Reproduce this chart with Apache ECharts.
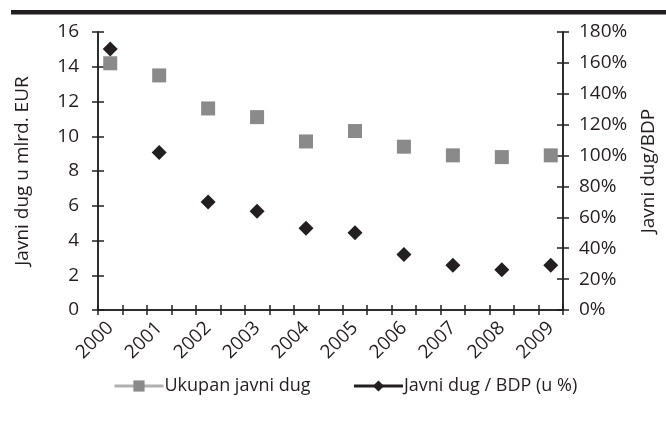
<!DOCTYPE html>
<html>
<head>
<meta charset="utf-8">
<script src="https://cdn.jsdelivr.net/npm/echarts@6/dist/echarts.min.js"></script>
<style>
  html, body { margin: 0; padding: 0; background: #ffffff; }
  #chart { width: 666px; height: 423px; }
</style>
</head>
<body>
<div id="chart"></div>
<script>
// Javni dug 2000-2009: ukupni iznos (mlrd. EUR) i udio u BDP-u
const years = [2000, 2001, 2002, 2003, 2004, 2005, 2006, 2007, 2008, 2009];
const ukupanDug = [14.2, 13.5, 11.6, 11.1, 9.7, 10.3, 9.4, 8.9, 8.8, 8.9];
const dugBdp = [169, 102, 70, 64, 53, 50, 36, 29, 26, 29];
const leftTicks = [0, 2, 4, 6, 8, 10, 12, 14, 16];
const rightTicks = [0, 20, 40, 60, 80, 100, 120, 140, 160, 180];

const ink = '#231f20';
const font = 'Open Sans';
const fs = 19;

// x-axis tick marks sit halfway between the years
const xMin = years[0] - 0.25;
const xMax = years[years.length - 1] + 0.25;
const xTickValues = [];
for (let v = xMin; v <= xMax + 1e-9; v += 0.5) xTickValues.push(+v.toFixed(2));

const chart = echarts.init(document.getElementById('chart'), null, { renderer: 'canvas' });

const baseX = {
  type: 'value', min: xMin, max: xMax, position: 'bottom',
  splitLine: { show: false },
  axisLine: { show: true, onZero: false, lineStyle: { color: ink, width: 1.5 } }
};
const baseY = {
  type: 'value', splitLine: { show: false },
  axisLine: { show: true, lineStyle: { color: ink, width: 1.5 } }
};

chart.setOption({
  animation: false,
  backgroundColor: '#ffffff',
  textStyle: { fontFamily: font, color: ink },
  grid: { left: 98, right: 102, top: 32, bottom: 113, containLabel: false },
  graphic: [{
    type: 'rect', left: 11, top: 10, shape: { width: 655, height: 4.5 },
    style: { fill: '#231f20' }, silent: true
  }],
  legend: {
    bottom: 23, left: 108, itemGap: 42, itemWidth: 49, itemHeight: 14,
    textStyle: { fontFamily: font, fontSize: 18, color: ink, padding: [0, 0, 0, -4] },
    data: [
      { name: 'Ukupan javni dug', itemStyle: { color: '#8a8a8a' },
        lineStyle: { color: '#b0b0b0', width: 3, opacity: 1 } },
      { name: 'Javni dug / BDP (u %)', itemStyle: { color: ink },
        lineStyle: { color: ink, width: 3, opacity: 1 } }
    ]
  },
  xAxis: [
    Object.assign({}, baseX, {
      axisTick: { show: true, inside: false, length: 5, customValues: xTickValues,
        lineStyle: { color: ink, width: 1.5 } },
      axisLabel: {
        show: true, customValues: years, rotate: 45, margin: 15,
        fontFamily: font, fontSize: fs, color: ink,
        formatter: v => String(Math.round(v))
      }
    }),
    Object.assign({}, baseX, {
      axisTick: { show: true, inside: true, length: 5, customValues: xTickValues,
        lineStyle: { color: ink, width: 1.5 } },
      axisLabel: { show: false }
    })
  ],
  yAxis: [
    Object.assign({}, baseY, {
      position: 'left', min: 0, max: 16, interval: 2,
      axisTick: { show: true, inside: false, length: 6, lineStyle: { color: ink, width: 1.5 } },
      axisLabel: { fontFamily: font, fontSize: fs, color: ink, margin: 19 },
      name: 'Javni dug u mlrd. EUR', nameLocation: 'middle', nameRotate: 90, nameGap: 66,
      nameTextStyle: { fontFamily: font, fontSize: fs, color: ink }
    }),
    Object.assign({}, baseY, {
      position: 'right', min: 0, max: 180, interval: 20,
      axisTick: { show: true, inside: false, length: 6, lineStyle: { color: ink, width: 1.5 } },
      axisLabel: { fontFamily: font, fontSize: fs, color: ink, margin: 16,
        formatter: '{value}%' },
      name: 'Javni dug/BDP', nameLocation: 'middle', nameRotate: 90, nameGap: 76,
      nameTextStyle: { fontFamily: font, fontSize: fs, color: ink }
    }),
    Object.assign({}, baseY, {
      position: 'left', min: 0, max: 16, interval: 2,
      axisTick: { show: true, inside: true, length: 6, lineStyle: { color: ink, width: 1.5 } },
      axisLabel: { show: false }
    }),
    Object.assign({}, baseY, {
      position: 'right', min: 0, max: 180, interval: 20,
      axisTick: { show: true, inside: true, length: 6, lineStyle: { color: ink, width: 1.5 } },
      axisLabel: { show: false }
    })
  ],
  series: [
    {
      name: 'Ukupan javni dug', type: 'line', xAxisIndex: 0, yAxisIndex: 0,
      data: years.map((y, i) => [y, ukupanDug[i]]),
      symbol: 'rect', symbolSize: 14,
      itemStyle: { color: '#8a8a8a' },
      lineStyle: { color: '#b0b0b0', width: 3, opacity: 0 },
      z: 3
    },
    {
      name: 'Javni dug / BDP (u %)', type: 'line', xAxisIndex: 0, yAxisIndex: 1,
      data: years.map((y, i) => [y, dugBdp[i]]),
      symbol: 'diamond', symbolSize: 15,
      itemStyle: { color: ink },
      lineStyle: { color: ink, width: 3, opacity: 0 },
      z: 4
    }
  ]
});
</script>
</body>
</html>
